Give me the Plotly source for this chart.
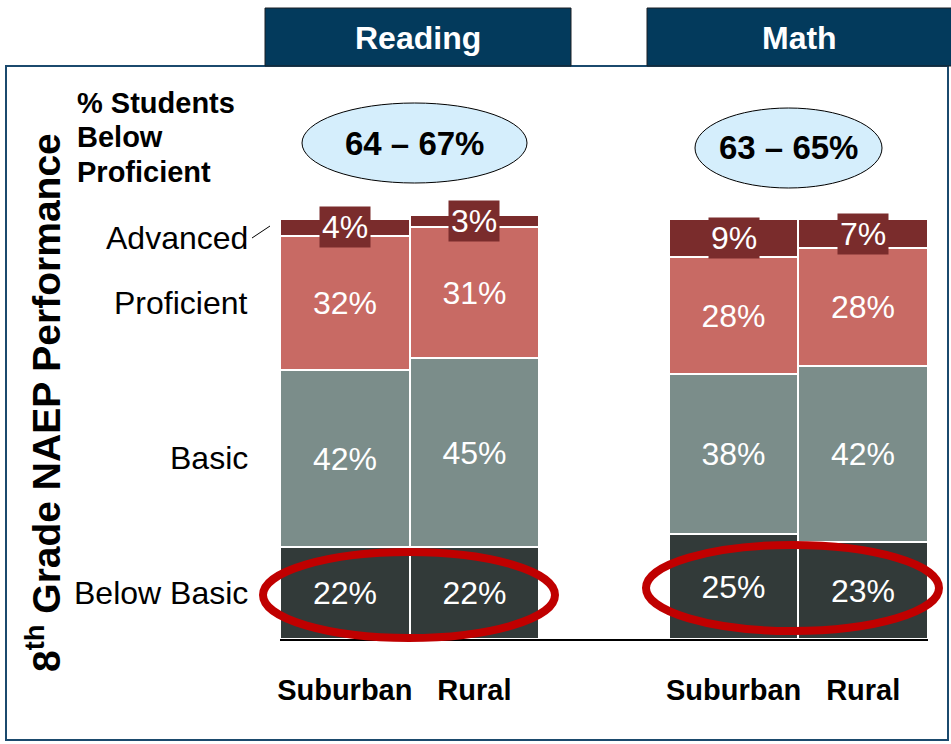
import plotly.graph_objects as go

# --- data -------------------------------------------------------------
groups = ["Reading", "Math"]
locales = ["Suburban", "Rural", "Suburban", "Rural"]
bar_pos = [0, 1, 3, 4]          # two bars per subject, gap between subjects
levels = ["Below Basic", "Basic", "Proficient", "Advanced"]
below_basic = [22, 22, 25, 23]
basic = [42, 45, 38, 42]
proficient = [32, 31, 28, 28]
advanced = [4, 3, 9, 7]
below_proficient_range = ["64 – 67%", "63 – 65%"]
callout_title = ["% Students", "Below", "Proficient"]

series = [below_basic, basic, proficient, advanced]
colors = ["#323a39", "#7b8d8a", "#c86a64", "#7a2c2c"]

# --- page geometry (pixels) -------------------------------------------
W, H = 951, 744
L, R, T, B = 280, 23, 200, 105
PW, PH = W - L - R, H - T - B
PX_PER_PCT = 4.2
Y_MAX = PH / PX_PER_PCT
FONT = "Arial, Liberation Sans, sans-serif"


def px(x):
    return (x - L) / PW


def py(y):
    return (H - B - y) / PH


def note(x, y, text, size, color="black", xanchor="center", **kw):
    fig.add_annotation(x=px(x), y=py(y), xref="paper", yref="paper",
                       text=text, showarrow=False,
                       xanchor=xanchor, yanchor="middle",
                       font=dict(color=color, size=size, family=FONT), **kw)


fig = go.Figure()

for name, vals, col in zip(levels, series, colors):
    show_text = name != "Advanced"
    fig.add_trace(go.Bar(
        x=bar_pos, y=vals, name=name, width=1,
        marker=dict(color=col, line=dict(color="white", width=2)),
        texttemplate="%{y}%" if show_text else None,
        text=vals if show_text else None,
        textposition="inside" if show_text else "none",
        insidetextanchor="middle",
        textfont=dict(color="white", size=32, family=FONT),
        hoverinfo="skip",
    ))

# Advanced labels sit on a dark box that can spill past the thin segment
for i, xp in enumerate(bar_pos):
    base = below_basic[i] + basic[i] + proficient[i]
    fig.add_annotation(
        x=xp, y=base + advanced[i] / 2, xref="x", yref="y",
        text=f"{advanced[i]}%", showarrow=False,
        xanchor="center", yanchor="middle",
        font=dict(color="white", size=32, family=FONT),
        bgcolor=colors[3], borderpad=2,
    )

# Row labels on the left, aligned with the first bar's segments
cum = [0]
for vals in series:
    cum.append(cum[-1] + vals[0])
label_y = [(cum[0] + cum[1]) / 2, (cum[1] + cum[2]) / 2,
           (cum[2] + cum[3]) / 2, cum[3] - 0.5]
for name, yv in zip(levels, label_y):
    fig.add_annotation(
        x=px(250), y=yv, xref="paper", yref="y", text=name,
        showarrow=False, xanchor="right", yanchor="middle",
        font=dict(color="black", size=32, family=FONT),
    )

shapes = []
# leader line from "Advanced" to its segment
shapes.append(dict(type="line", xref="paper", yref="paper",
                   x0=px(252), y0=py(238), x1=px(270), y1=py(226),
                   line=dict(color="black", width=1)))

# outer frame
shapes.append(dict(type="rect", xref="paper", yref="paper",
                   x0=px(6), y0=py(740), x1=px(948), y1=py(66),
                   line=dict(color="#1b4a6d", width=2), layer="below"))

# subject header tabs
header_boxes = [(265, 571), (647, 953)]
for (x0, x1), g in zip(header_boxes, groups):
    shapes.append(dict(type="rect", xref="paper", yref="paper",
                       x0=px(x0), y0=py(66), x1=px(x1), y1=py(8),
                       fillcolor="#033a5c", line=dict(color="#1a1f24", width=1)))
    note((x0 + min(x1, W)) / 2, 38, f"<b>{g}</b>", 32, color="white")

# light-blue callouts with the share below proficient
callouts = [(302, 103, 527, 183), (695, 108, 882, 188)]
for (x0, y0, x1, y1), txt in zip(callouts, below_proficient_range):
    shapes.append(dict(type="circle", xref="paper", yref="paper",
                       x0=px(x0), y0=py(y1), x1=px(x1), y1=py(y0),
                       fillcolor="#d5eefc", line=dict(color="black", width=1)))
    note((x0 + x1) / 2, (y0 + y1) / 2, f"<b>{txt}</b>", 33)

# red rings around the Below Basic segments
rings = [(263, 552, 555, 638), (646, 545, 939, 631)]
for x0, y0, x1, y1 in rings:
    shapes.append(dict(type="circle", xref="paper", yref="paper",
                       x0=px(x0), y0=py(y1), x1=px(x1), y1=py(y0),
                       line=dict(color="#c00000", width=8), layer="above"))

for line_txt, yy in zip(callout_title, [103, 137, 172]):
    note(75, yy, f"<b>{line_txt}</b>", 29, xanchor="left")

note(43, 403, "<b>8<sup>th</sup> Grade NAEP Performance</b>", 39, textangle=-90)

fig.update_layout(
    width=W, height=H,
    margin=dict(l=L, r=R, t=T, b=B, pad=0),
    barmode="stack", bargap=0,
    showlegend=False,
    paper_bgcolor="white", plot_bgcolor="rgba(0,0,0,0)",
    shapes=shapes,
    font=dict(family=FONT),
    xaxis=dict(range=[-0.5, 4.5], tickvals=bar_pos,
               ticktext=[f"<b>{c}</b>" for c in locales],
               tickfont=dict(size=29, color="black", family=FONT),
               showline=True, linecolor="black", linewidth=2,
               ticks="", showgrid=False, zeroline=False,
               ticklabelstandoff=24, fixedrange=True),
    yaxis=dict(range=[0, Y_MAX], visible=False, fixedrange=True),
)

fig.write_html("out.html")
